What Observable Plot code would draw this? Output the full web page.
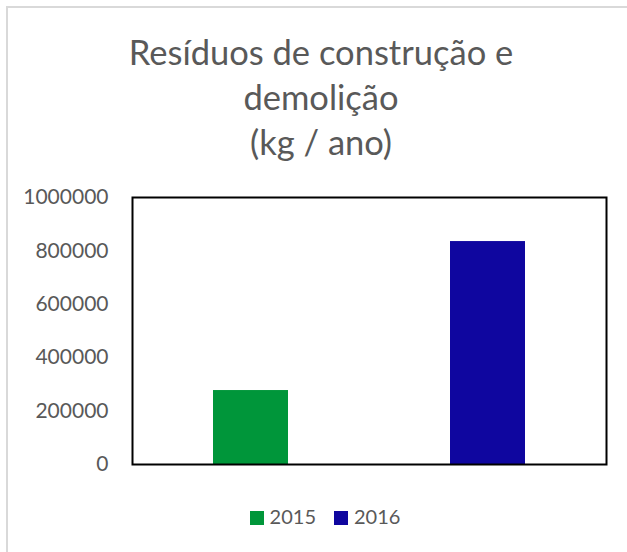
<!DOCTYPE html>
<html>
<head>
<meta charset="utf-8">
<script src="https://cdn.jsdelivr.net/npm/d3@7"></script>
<script src="https://cdn.jsdelivr.net/npm/@observablehq/plot@0.6"></script>
<style>
  html, body { margin: 0; padding: 0; background: #fff; }
  body { width: 627px; height: 552px; overflow: hidden; position: relative; font-family: Lato, "Open Sans", sans-serif; }
  #border { position: absolute; left: 6px; top: 6px; width: 660px; height: 580px; border: 2px solid #d9d9d9; box-sizing: border-box; }
  #title { position: absolute; left: 0; top: 29px; width: 642px; text-align: center; color: #595959; font-size: 34.5px; line-height: 45px; }
  #chart { position: absolute; left: 0; top: 180px; }
  #legend { position: absolute; left: 0; top: 503px; width: 650px; text-align: center; color: #595959; font-size: 20px; line-height: 26px; }
  .sw { display: inline-block; width: 14px; height: 14px; vertical-align: -1px; margin-right: 6px; }
  .item { display: inline-block; margin: 0 9px; }
</style>
</head>
<body>
<div id="border"></div>
<div id="title">Resíduos de construção e<br>demolição<br>(kg / ano)</div>
<div id="chart"></div>
<div id="legend"></div>
<script>
const categories = ["2015", "2016"];
const values = [277000, 835000];
const colors = ["#00963a", "#0f069f"];
const yTicks = [0, 200000, 400000, 600000, 800000, 1000000];

const data = categories.map((c, i) => ({year: c, value: values[i]}));

const chart = Plot.plot({
  width: 627,
  height: 300,
  marginLeft: 132,
  marginRight: 21,
  marginTop: 17,
  marginBottom: 16,
  style: {fontFamily: "Lato, 'Open Sans', sans-serif", fontSize: "21px", color: "#595959", background: "transparent"},
  x: {domain: categories, paddingInner: 0.684, paddingOuter: 0.342, axis: null},
  y: {domain: [0, 1000000], ticks: yTicks, tickFormat: d => String(d), tickSize: 0, tickPadding: 24, label: null},
  color: {domain: categories, range: colors},
  marks: [
    Plot.barY(data, {x: "year", y: "value", fill: "year"}),
    Plot.axisY({ticks: yTicks, tickFormat: d => String(d), tickSize: 0, tickPadding: 24, label: null, fill: "#595959", fontSize: 21}),
    Plot.frame({stroke: "#000", strokeWidth: 2})
  ]
});
document.getElementById("chart").appendChild(chart);

const legend = document.getElementById("legend");
categories.forEach((c, i) => {
  const item = document.createElement("span");
  item.className = "item";
  item.innerHTML = `<span class="sw" style="background:${colors[i]}"></span>${c}`;
  legend.appendChild(item);
});
</script>
</body>
</html>
